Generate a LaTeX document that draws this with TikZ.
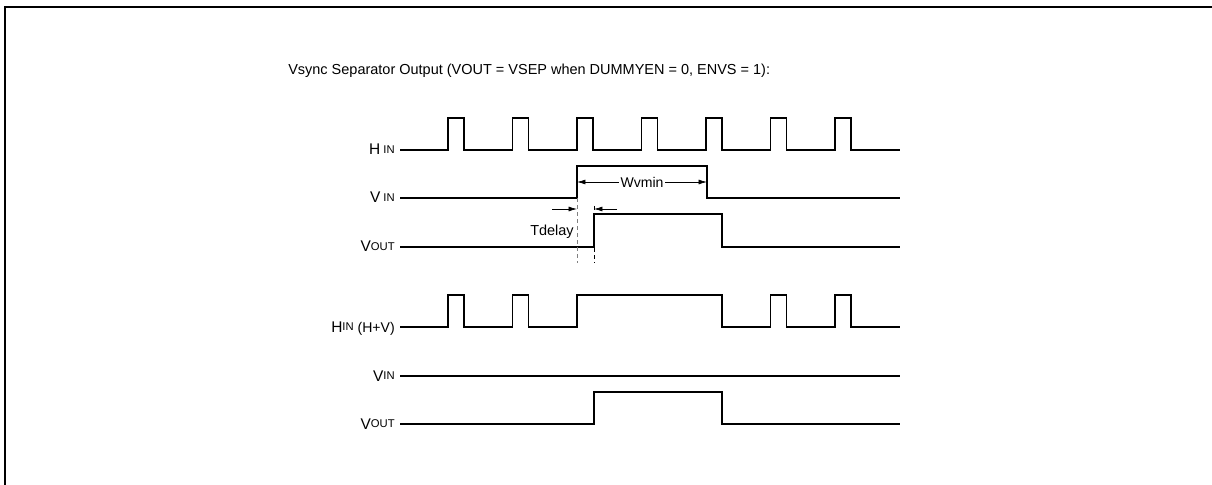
\documentclass[tikz,border=0pt]{standalone}
\usepackage{fontspec}
\setmainfont{Liberation Sans}
\usetikzlibrary{arrows.meta}

\newcommand{\siglabel}[2]{{\fontsize{11}{12}\selectfont #1}\raisebox{1pt}{\fontsize{8}{9}\selectfont #2}}

\tikzset{
	wave/.style = {line width=1.1pt, line join=miter},
	sig/.style = {anchor=base east, inner sep=0pt},
	guide/.style = {line width=0.6pt, dash pattern=on 3pt off 2pt},
	dim/.style = {line width=0.5pt, {Latex[length=6pt,width=3.5pt]}-{Latex[length=6pt,width=3.5pt]}},
	dimin/.style = {line width=0.5pt, -{Latex[length=6pt,width=3.5pt]}},
}

\begin{document}
\begin{tikzpicture}[x=0.025cm, y=-0.025cm]
	\useasboundingbox (0,0) rectangle (1212,485);
	\draw [line width=1.5pt] (5,485) -- (5,7) -- (1212,7);
	\node [anchor=base west, inner sep=0pt] (title) at (288,75)
		{\fontsize{10.3}{12}\selectfont Vsync Separator Output (VOUT = VSEP when DUMMYEN = 0, ENVS = 1):};

	% first case
	\node [sig] (hin) at (395,155) {\siglabel{H}{ IN}};
	\node [sig] (vin) at (395,203) {\siglabel{V}{ IN}};
	\node [sig] (vout) at (395,252) {\siglabel{V}{OUT}};
	\draw [wave] (400,150)
		\foreach \i in {0,...,6} { -- (448+64.5*\i,150) -- ++(0,-32) -- ++(16,0) -- ++(0,32) }
		-- (900,150);
	\draw [wave] (400,198) -- (577,198) -- (577,166) -- (707,166) -- (707,198) -- (900,198);
	\draw [wave] (400,247) -- (594,247) -- (594,214) -- (722,214) -- (722,247) -- (900,247);

	\coordinate (wl) at (577,182);
	\coordinate (wr) at (707,182);
	\draw [dim] (wl) -- (wr) node [midway, fill=white, inner sep=1pt] (wvmin) {\fontsize{10}{12}\selectfont Wvmin};
	\draw [guide, gray] (577,198) -- (577,263);
	\draw [guide] (594,206) -- (594,263);
	\coordinate (tl) at (552,209);
	\coordinate (tr) at (617,209);
	\draw [dimin] (tl) -- (577,209);
	\draw [dimin] (tr) -- (594,209);
	\node [anchor=base east, inner sep=0pt] (tdelay) at (574,236) {\fontsize{10.3}{12}\selectfont Tdelay};

	% second case
	\node [sig] (hinhv) at (395,332) {\siglabel{H}{IN}\fontsize{10}{12}\selectfont{} (H+V)};
	\node [sig] (vin2) at (395,381) {\siglabel{V}{IN}};
	\node [sig] (vout2) at (395,429) {\siglabel{V}{OUT}};
	\draw [wave] (400,327)
		\foreach \x in {448,512.5} { -- (\x,327) -- ++(0,-32) -- ++(16,0) -- ++(0,32) }
		-- (577,327) -- (577,295) -- (722,295) -- (722,327)
		\foreach \x in {770.5,835} { -- (\x,327) -- ++(0,-32) -- ++(16,0) -- ++(0,32) }
		-- (900,327);
	\draw [wave] (400,376) -- (900,376);
	\draw [wave] (400,424) -- (594,424) -- (594,392) -- (722,392) -- (722,424) -- (900,424);
\end{tikzpicture}
\end{document}
